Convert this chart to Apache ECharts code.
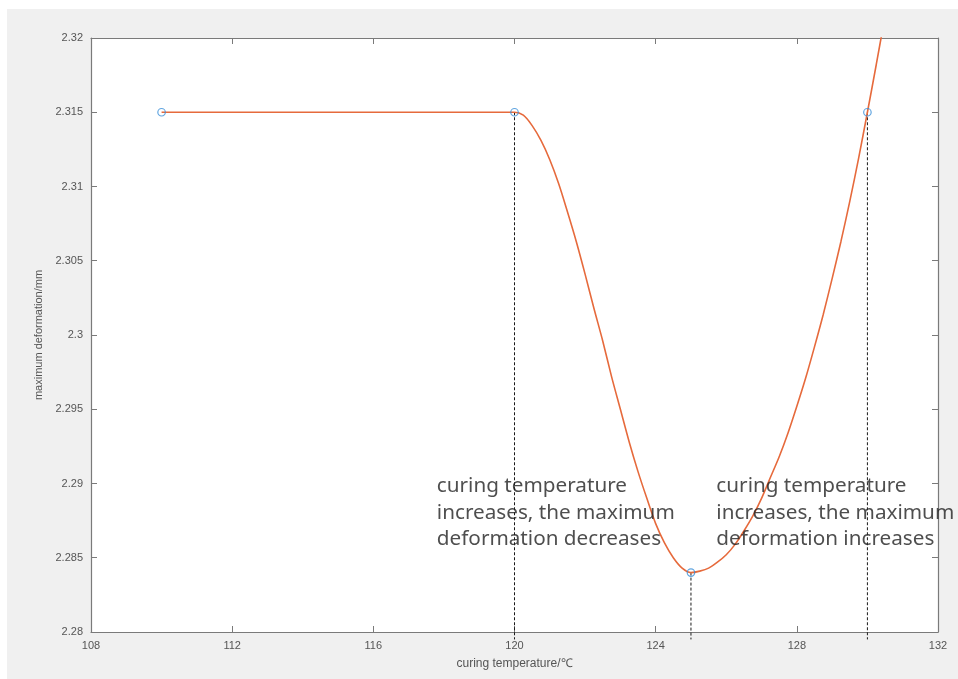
<!DOCTYPE html>
<html>
<head>
<meta charset="utf-8">
<script src="https://cdn.jsdelivr.net/npm/echarts@6/dist/echarts.min.js"></script>
<style>
  html, body { margin: 0; padding: 0; background: #ffffff; }
  #panel { position: absolute; left: 7px; top: 9px; right: 0; bottom: 0; background: #f0f0f0; }
  #chart { position: absolute; left: 0; top: 0; width: 958px; height: 679px; }
</style>
</head>
<body>
<div id="panel"></div>
<div id="chart"></div>
<script>
// Measured points (curing temperature in °C, maximum deformation in mm)
const measuredTemp = [110, 120, 125, 130];
const measuredDeform = [2.315, 2.315, 2.284, 2.315];

// Fitted curve samples
const curveTemp = [110, 115, 120,
  120.25, 120.5, 120.75, 121, 121.25, 121.5, 121.75, 122, 122.25, 122.5, 122.75,
  123, 123.25, 123.5, 123.75, 124, 124.25, 124.5, 124.75, 125,
  125.25, 125.5, 125.75, 126, 126.25, 126.5, 126.75, 127, 127.25, 127.5, 127.75,
  128, 128.25, 128.5, 128.75, 129, 129.25, 129.5, 129.75, 130, 130.25, 130.5];
const curveDeform = [2.315, 2.315, 2.315,
  2.3148, 2.3141, 2.3131, 2.3118, 2.3102, 2.3083, 2.3063, 2.3041, 2.3018, 2.2996, 2.2972,
  2.2950, 2.2928, 2.2908, 2.2890, 2.2873, 2.2860, 2.2850, 2.2843, 2.2840,
  2.2841, 2.2843, 2.2847, 2.2852, 2.2859, 2.2868, 2.2878, 2.2890, 2.2904, 2.2918, 2.2934,
  2.2952, 2.2971, 2.2992, 2.3014, 2.3038, 2.3063, 2.3090, 2.3119, 2.3150, 2.3182, 2.3215];

// Axis settings
const xTicks = { min: 108, max: 132, step: 4 };
const yTicks = { min: 2.28, max: 2.32, step: 0.005 };

// Guide lines dropped from the turning points to the temperature axis
const guideTemps = [120, 125, 130];
const guideTops = [2.315, 2.284, 2.315];
const guideBottom = 2.2795;

const noteLeft = ['curing temperature', 'increases, the maximum', 'deformation decreases'];
const noteRight = ['curing temperature', 'increases, the maximum', 'deformation increases'];

const axisColor = '#7a7a7a';
const labelColor = '#555555';
const labelFont = 'Liberation Sans';

const chart = echarts.init(document.getElementById('chart'), null, { renderer: 'canvas' });

const guideSeries = guideTemps.map((t, i) => ({
  type: 'line',
  data: [[t, guideTops[i]], [t, guideBottom]],
  symbol: 'none',
  clip: false,
  silent: true,
  lineStyle: { color: '#1a1a1a', width: 1, type: [3, 2] },
  z: 3
}));

function tickAxis(base, pos, showLabel) {
  return Object.assign({}, base, {
    position: pos,
    axisLine: { show: true, lineStyle: { color: axisColor, width: 1.2 } },
    axisTick: { show: true, inside: true, length: 6, lineStyle: { color: axisColor } },
    axisLabel: showLabel ? base.axisLabel : { show: false },
    splitLine: { show: false }
  });
}

const xBase = {
  type: 'value', min: xTicks.min, max: xTicks.max, interval: xTicks.step,
  axisLabel: { color: labelColor, fontFamily: labelFont, fontSize: 11, margin: 8 }
};
const yBase = {
  type: 'value', min: yTicks.min, max: yTicks.max, interval: yTicks.step,
  axisLabel: { color: labelColor, fontFamily: labelFont, fontSize: 11, margin: 8 }
};

const option = {
  animation: false,
  grid: { left: 91, top: 38, right: 20, bottom: 47, show: true, backgroundColor: '#ffffff', borderWidth: 0 },
  xAxis: [
    Object.assign(tickAxis(xBase, 'bottom', true), {
      name: 'curing temperature/℃', nameLocation: 'middle', nameGap: 26,
      nameTextStyle: { color: labelColor, fontFamily: labelFont, fontSize: 12 }
    }),
    tickAxis(xBase, 'top', false)
  ],
  yAxis: [
    Object.assign(tickAxis(yBase, 'left', true), {
      name: 'maximum deformation/mm', nameLocation: 'middle', nameGap: 47,
      nameTextStyle: { color: labelColor, fontFamily: labelFont, fontSize: 11 }
    }),
    tickAxis(yBase, 'right', false)
  ],
  series: [
    {
      type: 'line',
      data: curveTemp.map((t, i) => [t, curveDeform[i]]),
      smooth: 0.3,
      symbol: 'none',
      clip: true,
      lineStyle: { color: '#e66a3c', width: 1.6 },
      z: 4
    },
    ...guideSeries,
    {
      type: 'scatter',
      data: measuredTemp.map((t, i) => [t, measuredDeform[i]]),
      symbol: 'circle',
      symbolSize: 7.5,
      itemStyle: { color: 'rgba(255,255,255,0)', borderColor: '#3a8fd8', borderWidth: 1.2 },
      z: 5
    },
    {
      type: 'scatter',
      data: [[117.8, 2.2907], [125.72, 2.2907]],
      symbolSize: 0,
      silent: true,
      label: {
        show: true,
        position: 'right',
        distance: 0,
        align: 'left',
        verticalAlign: 'top',
        fontFamily: 'Noto Sans',
        fontSize: 20.7,
        lineHeight: 26.5,
        color: '#222222',
        formatter: p => (p.dataIndex === 0 ? noteLeft : noteRight).join('\n')
      },
      z: 6
    }
  ]
};

chart.setOption(option);
</script>
</body>
</html>
